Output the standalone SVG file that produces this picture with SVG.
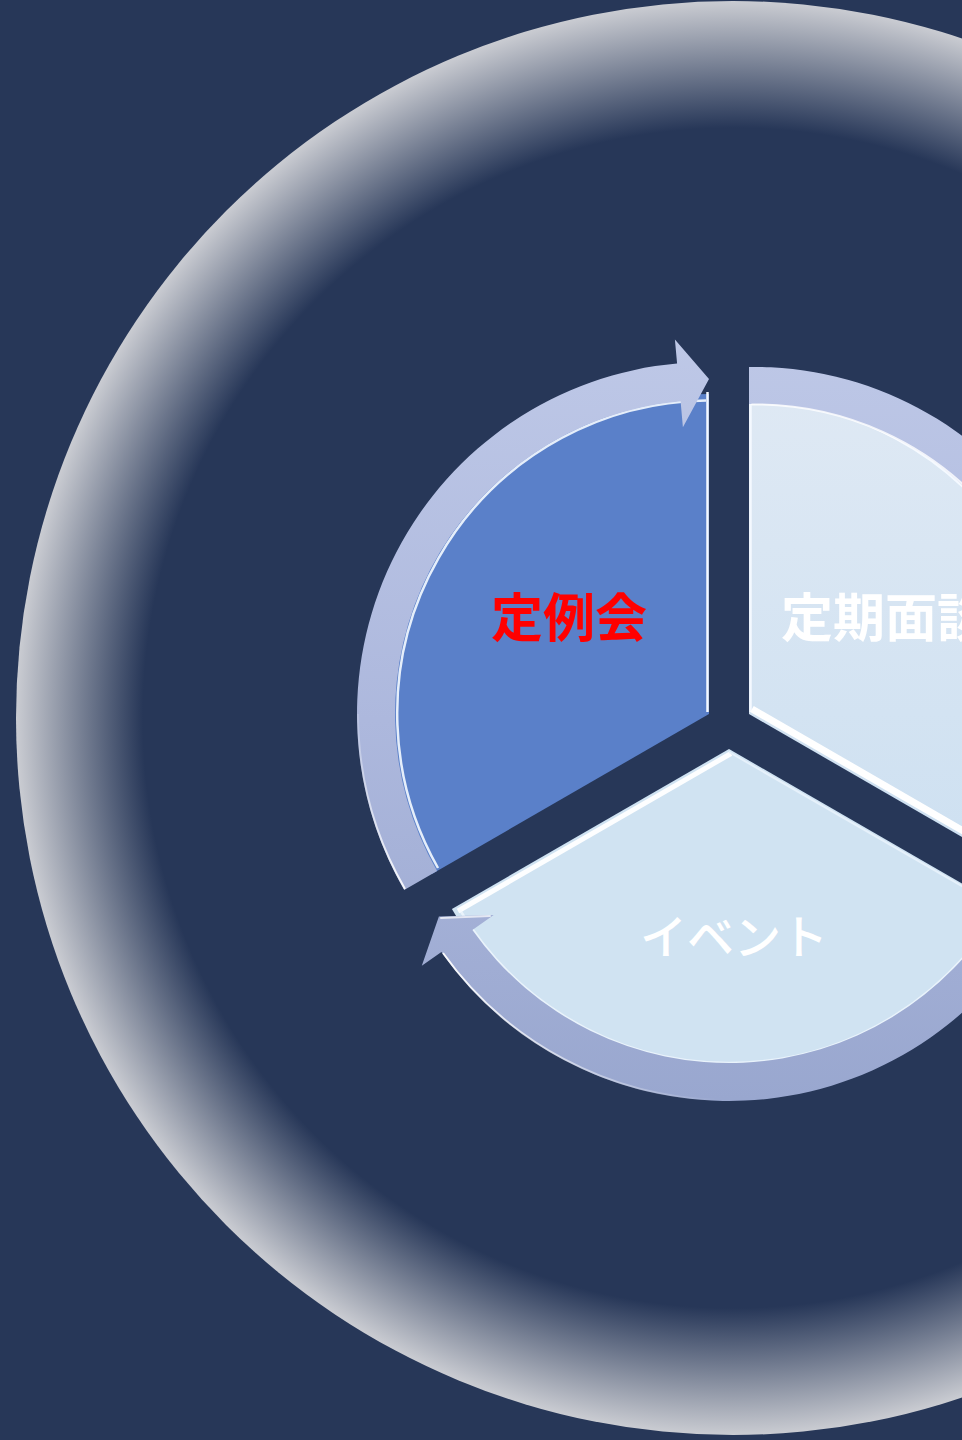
<svg xmlns="http://www.w3.org/2000/svg" width="962" height="1440" viewBox="0 0 962 1440">
<style>
.lbl{font-family:"Noto Sans CJK JP","Noto Sans CJK SC",sans-serif;font-size:52px;text-anchor:middle}
.bold{font-weight:700}
.small{font-size:47px;font-weight:500}
.band{fill:url(#band)}
.hl{fill:none;stroke:#ffffff;stroke-linecap:round}
.edge{fill:none;stroke:#f4f9ff;stroke-width:2.5}
</style>
<defs>
<radialGradient id="halo" gradientUnits="userSpaceOnUse" cx="733" cy="718" r="717">
<stop offset="0" stop-color="#273758"/>
<stop offset="0.823" stop-color="#273758"/>
<stop offset="1" stop-color="#caccd2"/>
</radialGradient>
<linearGradient id="band" gradientUnits="userSpaceOnUse" x1="0" y1="340" x2="0" y2="1100">
<stop offset="0" stop-color="#bec8e7"/>
<stop offset="0.5" stop-color="#adb8dd"/>
<stop offset="1" stop-color="#99a7cf"/>
</linearGradient>
<linearGradient id="lightWedge" gradientUnits="userSpaceOnUse" x1="0" y1="380" x2="0" y2="880">
<stop offset="0" stop-color="#dfe9f4"/>
<stop offset="1" stop-color="#cde0f1"/>
</linearGradient>
<linearGradient id="hlFadeL" gradientUnits="userSpaceOnUse" x1="0" y1="890" x2="0" y2="680">
<stop offset="0" stop-color="#ffffff" stop-opacity="0.9"/>
<stop offset="1" stop-color="#ffffff" stop-opacity="0"/>
</linearGradient>
<linearGradient id="hlFadeB" gradientUnits="userSpaceOnUse" x1="440" y1="0" x2="720" y2="0">
<stop offset="0" stop-color="#ffffff" stop-opacity="0.95"/>
<stop offset="1" stop-color="#ffffff" stop-opacity="0"/>
</linearGradient>
</defs>
<rect x="0" y="0" width="962" height="1440" fill="#273758"/>
<circle cx="733" cy="718" r="717" fill="url(#halo)"/>

<g id="node-teireikai">
<path d="M709,714 L709,394 A320,320 0 0 0 431.9,874 Z" fill="#5a80c9"/>
<path class="edge" d="M707.5,712 L707.5,392" stroke-width="2.5"/>
<path class="edge" d="M706,400.5 A313,313 0 0 0 438,868" stroke-width="2" opacity="0.9"/>
<text class="lbl bold" x="569" y="637" fill="#ff0000">定例会</text>
</g>

<g id="node-teiki">
<path d="M749,714 L749,394 A320,320 0 0 1 1026.1,874 Z" fill="url(#lightWedge)"/>
<path class="edge" d="M750.5,712 L750.5,375"/>
<path class="edge" d="M752,401 A313,313 0 0 1 1020,868" stroke-width="2.5"/>
<path d="M752,709 L1024,866" stroke="#ffffff" stroke-width="7" fill="none"/>
<text class="lbl bold" x="885" y="637" fill="#ffffff">定期面談</text>
</g>

<g id="node-event">
<path d="M729,749 L1006.1,909 A320,320 0 0 1 451.9,909 Z" fill="#d0e3f2"/>
<path d="M731,753.5 L458,911" stroke="#ffffff" stroke-width="5" fill="none" opacity="0.95"/>
<path d="M729,752 L1000,908" stroke="#e6f1fb" stroke-width="2" fill="none"/>
<path class="edge" d="M998,910 A313,313 0 0 1 460,910" stroke-width="2" opacity="0.7"/>
<text class="lbl small" x="734" y="954" fill="#ffffff">イベント</text>
</g>

<g id="connectors">
<path class="band" d="M749,367 A347,347 0 0 1 1068.5,861.7 L1090.3,871.7 L1039.1,881.5 L1010.4,834.8 L1034,845.7 A310,310 0 0 0 749,404 Z"/>
<path class="hl" d="M752,404.5 A310,310 0 0 1 990,512" stroke-width="2" opacity="0.8"/>
<path class="band" d="M404.2,890 A352,352 0 0 1 677.1,363.4 L674.9,339.5 L709,379 L682.9,427.2 L680.6,401.3 A314,314 0 0 0 437.1,871 Z"/>
<path d="M405,889 A351,351 0 0 1 358,714" fill="none" stroke="url(#hlFadeL)" stroke-width="2"/>
<path class="band" d="M1033.8,925 A352,352 0 0 1 441.4,951.9 L421.8,965.7 L438.9,916.5 L493.7,915 L472.4,930 A314,314 0 0 0 1000.9,906 Z"/>
<path d="M443,953 A351,351 0 0 0 720,1100" fill="none" stroke="url(#hlFadeB)" stroke-width="2"/>
<path class="hl" d="M441,918 L490,916" stroke-width="2" opacity="0.7"/>
</g>
</svg>
